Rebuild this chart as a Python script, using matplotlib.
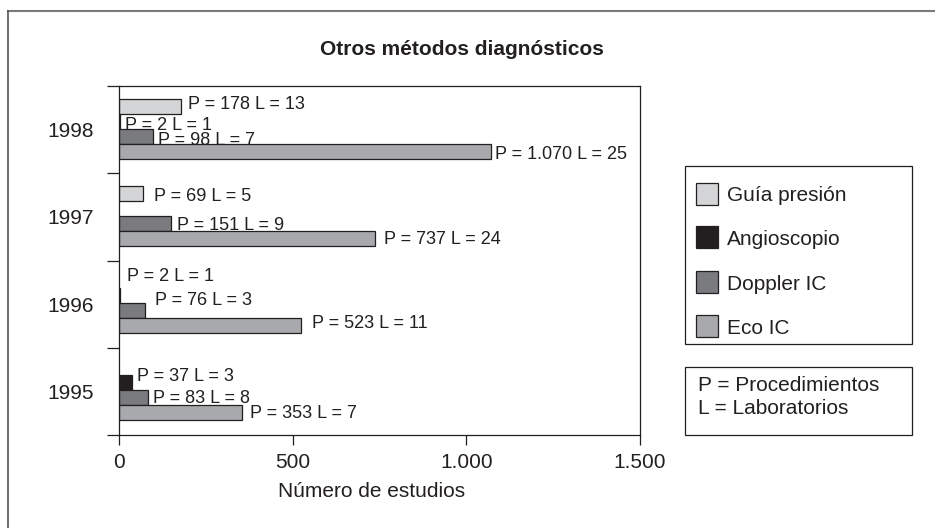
import numpy as np
import matplotlib.pyplot as plt
from matplotlib.patches import Rectangle
from matplotlib.lines import Line2D

plt.rcParams['font.family'] = ['Liberation Sans', 'DejaVu Sans']

# =========================================================
# DATOS
# =========================================================

years = ["1995", "1996", "1997", "1998"]
series = ["Guía presión", "Angioscopio", "Doppler IC", "Eco IC"]

# P = procedimientos, L = laboratorios (None = sin dato ese año)
guia_p    = [None, None, 69, 178]
guia_l    = [None, None, 5, 13]
angio_p   = [37, 2, None, 2]
angio_l   = [3, 1, None, 1]
doppler_p = [83, 76, 151, 98]
doppler_l = [8, 3, 9, 7]
eco_p     = [353, 523, 737, 1070]
eco_l     = [7, 11, 24, 25]

x_ticks = [0, 500, 1000, 1500]
x_ticklabels = ["0", "500", "1.000", "1.500"]

# =========================================================
# ESTILO
# =========================================================

W, H = 935, 528
colors = ["#d4d5d6", "#231f20", "#7a7b7e", "#a8a9ac"]
edge = "#231f20"
bar_h = 0.172
shift = 0.012

# desplazamiento (px) de cada etiqueta respecto al extremo de su barra
label_offsets = {
    (0, 3): (7, 4),   (1, 3): (5, -2),  (2, 3): (4.5, -2), (3, 3): (4, -1),
    (0, 2): (11, -1.5), (2, 2): (6, -0.5), (3, 2): (9, 1),
    (1, 1): (7, 21),  (2, 1): (10, 12.5), (3, 1): (11, 4),
    (1, 0): (5, 8),   (2, 0): (5, 1.5),  (3, 0): (8, 1.5),
}
CAP_HALF = 6.5  # mitad de la altura de mayúscula a 13 pt


def px(x, y):
    """Pixeles (origen arriba-izquierda) -> fracción de figura."""
    return x / W, 1 - y / H


def fmt(v):
    return f"{v:,}".replace(",", ".")


fig = plt.figure(figsize=(W / 100, H / 100), dpi=100)
ax = fig.add_axes([119 / W, 1 - 435 / H, 521 / W, 349 / H])

y = np.arange(len(years))
p_values = [guia_p, angio_p, doppler_p, eco_p]
l_values = [guia_l, angio_l, doppler_l, eco_l]

for i, (name, pv, lv) in enumerate(zip(series, p_values, l_values)):
    off = shift + (1.5 - i) * bar_h
    idx = [k for k, v in enumerate(pv) if v is not None]
    vals = [pv[k] for k in idx]
    ax.barh(y[idx] + off, vals, height=bar_h, color=colors[i],
            edgecolor=edge, linewidth=0.9, label=name)
    for k in idx:
        dx, dy = label_offsets[(i, k)]
        ax.annotate(f"P = {fmt(pv[k])} L = {lv[k]}",
                    xy=(pv[k], y[k] + off), xytext=(dx, dy - CAP_HALF),
                    textcoords="offset pixels", va="baseline", ha="left",
                    fontsize=13, color="#231f20")

ax.set_xlim(0, 1500)
ax.set_ylim(-0.5, 3.5)

ax.set_xticks(x_ticks)
ax.set_xticklabels(x_ticklabels, fontsize=15, color="#231f20")
ax.set_yticks(np.arange(-0.5, 4, 1))
ax.set_yticklabels([])
ax.set_yticks(y, minor=True)
ax.set_yticklabels(years, minor=True, fontsize=15, color="#231f20")
ax.tick_params(axis="y", which="major", direction="out", length=8.6,
               width=0.9, color=edge)
ax.tick_params(axis="y", which="minor", length=0, pad=18)
ax.tick_params(axis="x", direction="out", length=7.2, width=0.9,
               color=edge, pad=6)
for s in ax.spines.values():
    s.set_linewidth(0.9)
    s.set_color(edge)

ax.set_xlabel("Número de estudios", fontsize=15, color="#231f20")
ax.xaxis.set_label_coords((372 - 119) / 521, (435 - 482) / 349)

fig.text(*px(461.5, 55), "Otros métodos diagnósticos", fontsize=15,
         fontweight="bold", ha="center", va="baseline", color="#231f20")

# leyenda de series
fig.add_artist(Rectangle(px(685, 344), 227 / W, 178 / H, transform=fig.transFigure,
                         facecolor="white", edgecolor=edge, linewidth=0.9))
row_y = [193.5, 237, 282, 326]
for i, name in enumerate(series):
    fig.add_artist(Rectangle(px(696, row_y[i] + 11), 22 / W, 22 / H,
                             transform=fig.transFigure, facecolor=colors[i],
                             edgecolor=edge, linewidth=0.9))
    fig.text(*px(727, row_y[i] + 7.5), name, fontsize=15, va="baseline",
             ha="left", color="#231f20")

# recuadro de abreviaturas
fig.add_artist(Rectangle(px(685, 435), 227 / W, 68 / H, transform=fig.transFigure,
                         facecolor="white", edgecolor=edge, linewidth=0.9))
fig.text(*px(698, 391), "P = Procedimientos", fontsize=15, va="baseline",
         color="#231f20")
fig.text(*px(698, 414), "L = Laboratorios", fontsize=15, va="baseline",
         color="#231f20")

# marco exterior
fig.add_artist(Line2D([8 / W, 1], [1 - 10.5 / H] * 2, transform=fig.transFigure,
                      color="#7a7a7a", linewidth=1.5))
fig.add_artist(Line2D([8 / W] * 2, [0, 1 - 10.5 / H], transform=fig.transFigure,
                      color="#555555", linewidth=1.2))

fig.savefig("out.png", dpi=100)
